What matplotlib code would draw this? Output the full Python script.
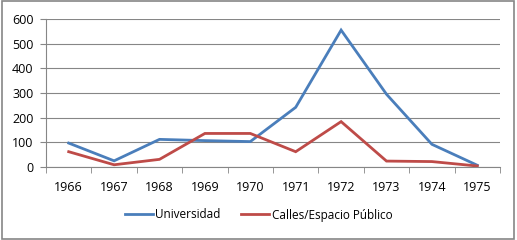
import matplotlib
matplotlib.use("Agg")
import matplotlib.pyplot as plt
from matplotlib.patches import Rectangle

years = ["1966", "1967", "1968", "1969", "1970", "1971", "1972", "1973", "1974", "1975"]
universidad = [97, 25, 112, 107, 103, 242, 555, 295, 92, 7]
calles = [62, 9, 31, 136, 136, 62, 184, 24, 22, 4]

plt.rcParams['font.family'] = ['Open Sans', 'DejaVu Sans']

fig = plt.figure(figsize=(5.17, 2.4), dpi=100)
fig.patches.append(Rectangle((0.004, 0.006), 0.99, 0.988, transform=fig.transFigure,
                             fill=False, edgecolor='#868686', linewidth=1.2))
ax = fig.add_axes([46/517, 1-167/240, (500-46)/517, (167-19)/240])

x = list(range(len(years)))
ax.plot(x, universidad, color='#4a7ebb', lw=2.0, label='Universidad', solid_joinstyle='miter')
ax.plot(x, calles, color='#be4b48', lw=2.0, label='Calles/Espacio Público', solid_joinstyle='miter')

ax.set_xlim(-0.5, len(years) - 0.5)
ax.set_ylim(0, 600)
ax.set_yticks(range(0, 601, 100))
ax.yaxis.grid(True, color='#868686', lw=0.8)
ax.set_axisbelow(True)
ax.set_xticks(x)
ax.set_xticklabels(years)
ax.set_xticks([i - 0.5 for i in range(len(years) + 1)], minor=True)
ax.tick_params(axis='x', which='major', length=0, pad=10, labelsize=9)
ax.tick_params(axis='x', which='minor', length=4, color='#868686')
ax.tick_params(axis='y', length=4, color='#868686', labelsize=9, pad=5)
for s in ['top', 'right']:
    ax.spines[s].set_visible(False)
ax.spines['left'].set_color('#868686')
ax.spines['bottom'].set_color('#868686')

fig.legend(loc='center', bbox_to_anchor=(0.5, 1-215/240), ncol=2, frameon=False,
           fontsize=8.5, handlelength=2.4, columnspacing=1.7, handletextpad=0.2)

fig.savefig('out.png', dpi=100)
